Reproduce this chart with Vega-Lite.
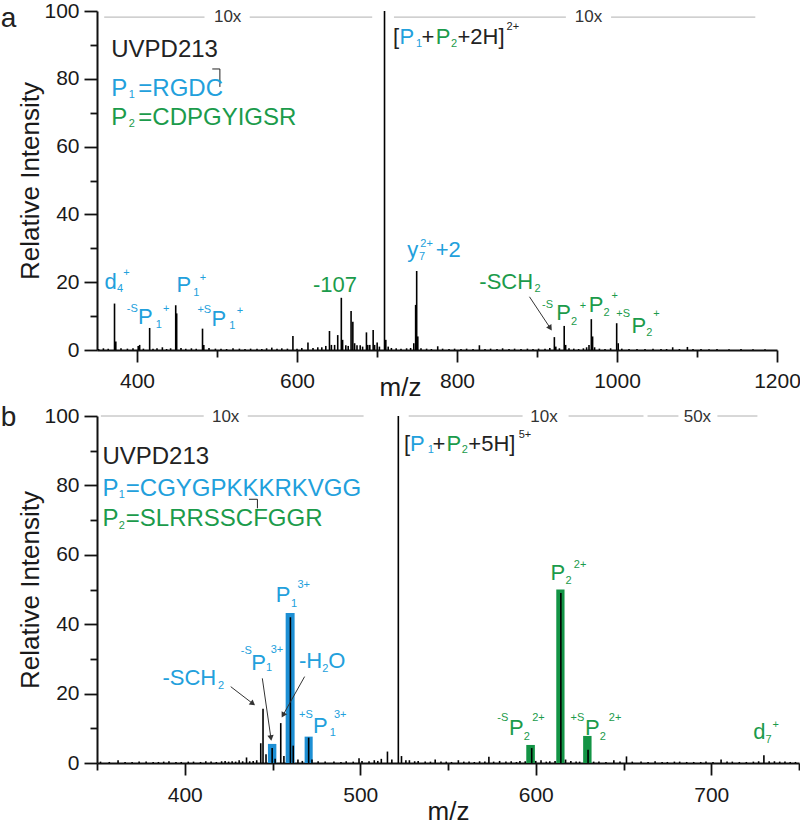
{
"$schema":"https://vega.github.io/schema/vega-lite/v6.json",
"padding":{"left":0,"top":0,"right":0,"bottom":0},
"autosize":{"type":"pad"},
"spacing":66,
"bounds":"flush",
"config":{"font":"Liberation Sans","view":{"stroke":null},
 "axis":{"domainWidth":2,"domainColor":"#111","tickColor":"#111","tickWidth":1.8,"labelFontSize":21,"labelColor":"#1a1a1a","titleFontSize":26,"titleFontWeight":"normal","titleColor":"#1a1a1a","grid":false,"labelFlush":false,"labelOverlap":false}},
"datasets":{
"txtA":[
{"mz":229.7,"i":95.2,"t":"a","k":"panel","c":"k"},
{"mz":513.3,"i":96.7,"t":"10x","k":"scale","c":"k"},
{"mz":964.4,"i":96.7,"t":"10x","k":"scale","c":"k"},
{"mz":367.8,"i":86.4,"t":"UVPD213","k":"seq","c":"k"},
{"mz":367.8,"i":74.8,"t":"P","k":"seq","c":"P1"},
{"mz":389.7,"i":74.3,"t":"1","k":"ss","c":"P1"},
{"mz":401.6,"i":74.8,"t":"=RGDC","k":"seq","c":"P1"},
{"mz":367.8,"i":66.3,"t":"P","k":"seq","c":"P2"},
{"mz":389.7,"i":65.8,"t":"2","k":"ss","c":"P2"},
{"mz":401.6,"i":66.3,"t":"=CDPGYIGSR","k":"seq","c":"P2"},
{"mz":720.0,"i":90.3,"t":"[","k":"ann","c":"k"},
{"mz":728.2,"i":90.3,"t":"P","k":"ann","c":"P1"},
{"mz":748.8,"i":89.3,"t":"1","k":"ss","c":"P1"},
{"mz":755.5,"i":90.3,"t":"+","k":"ann","c":"k"},
{"mz":773.4,"i":90.3,"t":"P","k":"ann","c":"P2"},
{"mz":792.5,"i":89.3,"t":"2","k":"ss","c":"P2"},
{"mz":800.6,"i":90.3,"t":"+2H]","k":"ann","c":"k"},
{"mz":862.0,"i":94.5,"t":"2+","k":"ss","c":"k"},
{"mz":359.3,"i":18.1,"t":"d","k":"ann","c":"P1"},
{"mz":374.9,"i":17.2,"t":"4","k":"ss","c":"P1"},
{"mz":382.8,"i":21.9,"t":"+","k":"ss","c":"P1"},
{"mz":387.3,"i":11.3,"t":"-S","k":"ss","c":"P1"},
{"mz":401.3,"i":7.8,"t":"P","k":"ann","c":"P1"},
{"mz":423.3,"i":6.4,"t":"1","k":"ss","c":"P1"},
{"mz":432.6,"i":11.1,"t":"+","k":"ss","c":"P1"},
{"mz":449.3,"i":17.2,"t":"P","k":"ann","c":"P1"},
{"mz":470.3,"i":16.0,"t":"1","k":"ss","c":"P1"},
{"mz":478.5,"i":20.4,"t":"+","k":"ss","c":"P1"},
{"mz":475.5,"i":11.0,"t":"+S","k":"ss","c":"P1"},
{"mz":493.2,"i":7.2,"t":"P","k":"ann","c":"P1"},
{"mz":515.4,"i":6.2,"t":"1","k":"ss","c":"P1"},
{"mz":524.6,"i":10.6,"t":"+","k":"ss","c":"P1"},
{"mz":620.0,"i":17.2,"t":"-107","k":"ann","c":"P2"},
{"mz":737.9,"i":27.5,"t":"y","k":"ann","c":"P1"},
{"mz":752.6,"i":26.6,"t":"7","k":"ss","c":"P1"},
{"mz":754.2,"i":30.3,"t":"2+","k":"ss","c":"P1"},
{"mz":773.4,"i":27.5,"t":"+2","k":"ann","c":"P1"},
{"mz":827.9,"i":18.1,"t":"-SCH","k":"ann","c":"P2"},
{"mz":897.0,"i":17.0,"t":"2","k":"ss","c":"P2"},
{"mz":906.3,"i":12.5,"t":"-S","k":"ss","c":"P2"},
{"mz":924.0,"i":8.8,"t":"P","k":"ann","c":"P2"},
{"mz":942.6,"i":7.4,"t":"2","k":"ss","c":"P2"},
{"mz":953.3,"i":12.1,"t":"+","k":"ss","c":"P2"},
{"mz":964.6,"i":11.3,"t":"P","k":"ann","c":"P2"},
{"mz":983.1,"i":10.1,"t":"2","k":"ss","c":"P2"},
{"mz":993.0,"i":15.0,"t":"+","k":"ss","c":"P2"},
{"mz":999.2,"i":9.8,"t":"+S","k":"ss","c":"P2"},
{"mz":1018.1,"i":4.9,"t":"P","k":"ann","c":"P2"},
{"mz":1036.6,"i":4.2,"t":"2","k":"ss","c":"P2"},
{"mz":1045.3,"i":9.6,"t":"+","k":"ss","c":"P2"}
],
"txtB":[
{"mz":295.2,"i":97.0,"t":"b","k":"panel","c":"k"},
{"mz":423.3,"i":98.3,"t":"10x","k":"scale","c":"k"},
{"mz":604.7,"i":98.3,"t":"10x","k":"scale","c":"k"},
{"mz":692.1,"i":98.3,"t":"50x","k":"scale","c":"k"},
{"mz":353.1,"i":86.2,"t":"UVPD213","k":"seq","c":"k"},
{"mz":353.1,"i":77.0,"t":"P","k":"seq","c":"P1"},
{"mz":362.4,"i":76.3,"t":"1","k":"ss","c":"P1"},
{"mz":366.4,"i":77.0,"t":"=CGYGPKKKRKVGG","k":"seq","c":"P1"},
{"mz":353.1,"i":68.2,"t":"P","k":"seq","c":"P2"},
{"mz":362.4,"i":67.4,"t":"2","k":"ss","c":"P2"},
{"mz":366.4,"i":68.2,"t":"=SLRRSSCFGGR","k":"seq","c":"P2"},
{"mz":524.9,"i":89.8,"t":"[","k":"ann","c":"k"},
{"mz":528.3,"i":89.8,"t":"P","k":"ann","c":"P1"},
{"mz":538.4,"i":89.3,"t":"1","k":"ss","c":"P1"},
{"mz":541.1,"i":89.8,"t":"+","k":"ann","c":"k"},
{"mz":549.2,"i":89.8,"t":"P","k":"ann","c":"P2"},
{"mz":557.9,"i":89.3,"t":"2","k":"ss","c":"P2"},
{"mz":561.6,"i":89.8,"t":"+5H]","k":"ann","c":"k"},
{"mz":590.3,"i":93.8,"t":"5+","k":"ss","c":"k"},
{"mz":387.3,"i":22.5,"t":"-SCH","k":"ann","c":"P1"},
{"mz":419.0,"i":21.4,"t":"2","k":"ss","c":"P1"},
{"mz":431.9,"i":31.3,"t":"-S","k":"ss","c":"P1"},
{"mz":437.9,"i":26.9,"t":"P","k":"ann","c":"P1"},
{"mz":446.3,"i":26.4,"t":"1","k":"ss","c":"P1"},
{"mz":449.0,"i":31.6,"t":"3+","k":"ss","c":"P1"},
{"mz":451.8,"i":46.3,"t":"P","k":"ann","c":"P1"},
{"mz":460.6,"i":45.1,"t":"1","k":"ss","c":"P1"},
{"mz":464.2,"i":50.4,"t":"3+","k":"ss","c":"P1"},
{"mz":465.1,"i":27.5,"t":"-H","k":"ann","c":"P1"},
{"mz":478.3,"i":26.2,"t":"2","k":"ss","c":"P1"},
{"mz":481.7,"i":27.5,"t":"O","k":"ann","c":"P1"},
{"mz":465.1,"i":12.9,"t":"+S","k":"ss","c":"P1"},
{"mz":473.1,"i":8.6,"t":"P","k":"ann","c":"P1"},
{"mz":482.6,"i":7.9,"t":"1","k":"ss","c":"P1"},
{"mz":485.0,"i":12.9,"t":"3+","k":"ss","c":"P1"},
{"mz":578.1,"i":12.0,"t":"-S","k":"ss","c":"P2"},
{"mz":584.7,"i":8.1,"t":"P","k":"ann","c":"P2"},
{"mz":593.2,"i":6.7,"t":"2","k":"ss","c":"P2"},
{"mz":598.0,"i":12.0,"t":"2+","k":"ss","c":"P2"},
{"mz":619.8,"i":12.0,"t":"+S","k":"ss","c":"P2"},
{"mz":628.0,"i":8.1,"t":"P","k":"ann","c":"P2"},
{"mz":636.5,"i":6.7,"t":"2","k":"ss","c":"P2"},
{"mz":641.6,"i":12.0,"t":"2+","k":"ss","c":"P2"},
{"mz":723.9,"i":7.0,"t":"d","k":"ann","c":"P2"},
{"mz":730.9,"i":5.7,"t":"7","k":"ss","c":"P2"},
{"mz":734.9,"i":10.0,"t":"+","k":"ss","c":"P2"},
{"mz":608.4,"i":52.8,"t":"P","k":"ann","c":"P2"},
{"mz":617.0,"i":51.5,"t":"2","k":"ss","c":"P2"},
{"mz":621.7,"i":56.1,"t":"2+","k":"ss","c":"P2"}
]
},
"vconcat":[
{
"width":680,"height":339,
"encoding":{
 "x":{"field":"mz","type":"quantitative","scale":{"domain":[350,1200],"nice":false,"zero":false},
  "axis":{"title":"m/z","values":[400,500,600,700,800,900,1000,1100,1200],"format":"d","labelExpr":"datum.value % 200 === 0 ? datum.label : ''","tickSize":{"condition":{"test":"datum.value % 200 === 0","value":12},"value":7},"labelPadding":8,"titleX":303,"titleY":45,"titleBaseline":"alphabetic"}},
 "y":{"field":"i","type":"quantitative","scale":{"domain":[0,100],"nice":false,"zero":false},
  "axis":{"title":"Relative Intensity","values":[0,10,20,30,40,50,60,70,80,90,100],"labelExpr":"datum.value % 20 === 0 ? datum.label : ''","tickSize":{"condition":{"test":"datum.value % 20 === 0","value":13},"value":7},"labelPadding":5,"titleX":-59,"titleY":169.5,"titleBaseline":"alphabetic","titleAngle":270}}
},
"layer":[
{"data":{"values":[{"mz":359,"mz2":484.4,"i":98.2},{"mz":540.9,"mz2":694,"i":98.2},{"mz":721.2,"mz2":936.1,"i":98.2},{"mz":992.6,"mz2":1172.9,"i":98.2}]},
 "mark":{"type":"rule","color":"#b0b0b0","strokeWidth":1},"encoding":{"x2":{"field":"mz2"}}},
{"data":{"values":[{"mz":494.1,"i":82.9,"mz2":503.6,"i2":82.9},{"mz":503.6,"i":82.9,"mz2":503.6,"i2":77.6}]},
 "mark":{"type":"rule","color":"#222","strokeWidth":1},"encoding":{"x2":{"field":"mz2"},"y2":{"field":"i2"}}},
{"data":{"values":[
{"mz":352,"i":0.3},{"mz":358,"i":0.5},{"mz":364,"i":0.4},{"mz":371.9,"i":13.7},{"mz":373.5,"i":2.5},{"mz":380,"i":0.5},{"mz":388,"i":0.4},{"mz":395,"i":0.5},{"mz":401.5,"i":1.2},{"mz":403.3,"i":1.5},{"mz":408,"i":0.4},{"mz":415.8,"i":6.5},{"mz":420,"i":0.4},{"mz":425,"i":0.5},{"mz":431.7,"i":0.8},{"mz":437,"i":0.3},{"mz":442,"i":0.5},{"mz":448.4,"i":13.2},{"mz":449.6,"i":10.8},{"mz":455,"i":0.6},{"mz":461,"i":0.4},{"mz":468,"i":0.5},{"mz":474,"i":0.4},{"mz":481.9,"i":6.3},{"mz":483.5,"i":1.5},{"mz":490,"i":0.6},{"mz":498,"i":0.4},{"mz":505,"i":0.4},{"mz":512,"i":0.3},{"mz":520,"i":0.5},{"mz":528,"i":0.4},{"mz":535,"i":0.3},{"mz":542,"i":0.4},{"mz":550,"i":0.4},{"mz":556,"i":0.3},{"mz":562,"i":0.5},{"mz":568.5,"i":0.7},{"mz":575,"i":0.4},{"mz":581,"i":0.5},{"mz":588,"i":0.4},{"mz":594.9,"i":4.1},{"mz":600,"i":0.4},{"mz":606,"i":0.6},{"mz":613.7,"i":2.2},{"mz":620,"i":0.6},{"mz":626,"i":0.8},{"mz":631,"i":0.8},{"mz":636,"i":1.2},{"mz":640.6,"i":5.6},{"mz":643,"i":1.5},{"mz":647,"i":1.5},{"mz":650.9,"i":4.4},{"mz":655.4,"i":15.4},{"mz":657,"i":3},{"mz":661,"i":1.4},{"mz":664,"i":1.2},{"mz":667.6,"i":11.5},{"mz":669.8,"i":8.3},{"mz":672,"i":2},{"mz":675,"i":1.4},{"mz":679,"i":1.4},{"mz":682,"i":1},{"mz":686.8,"i":5.2},{"mz":688.5,"i":1.5},{"mz":691,"i":1.5},{"mz":695.2,"i":5.9},{"mz":697,"i":1.5},{"mz":700.2,"i":2.2},{"mz":703,"i":1},{"mz":709.4,"i":100},{"mz":711,"i":3},{"mz":714,"i":1},{"mz":718,"i":0.6},{"mz":724,"i":0.5},{"mz":730,"i":0.4},{"mz":737,"i":0.5},{"mz":742,"i":0.6},{"mz":746,"i":2},{"mz":748.3,"i":13.3},{"mz":749.6,"i":23.3},{"mz":751,"i":4},{"mz":755,"i":0.5},{"mz":762,"i":0.4},{"mz":768,"i":0.3},{"mz":775.9,"i":1.1},{"mz":782,"i":0.4},{"mz":790,"i":0.3},{"mz":797,"i":0.4},{"mz":805,"i":0.3},{"mz":812,"i":0.4},{"mz":820,"i":0.3},{"mz":828,"i":1.4},{"mz":835,"i":0.3},{"mz":842,"i":0.4},{"mz":850,"i":0.3},{"mz":857,"i":0.5},{"mz":865,"i":0.3},{"mz":872,"i":0.4},{"mz":880,"i":0.3},{"mz":888,"i":0.4},{"mz":895,"i":0.3},{"mz":902,"i":0.4},{"mz":910,"i":0.4},{"mz":916,"i":0.6},{"mz":921.7,"i":3.8},{"mz":923.5,"i":1},{"mz":928,"i":0.5},{"mz":934,"i":7.1},{"mz":935.8,"i":1.5},{"mz":940,"i":0.5},{"mz":946,"i":0.4},{"mz":952,"i":0.3},{"mz":958,"i":0.5},{"mz":962,"i":0.8},{"mz":965,"i":1.5},{"mz":967.9,"i":9.1},{"mz":969.5,"i":4},{"mz":972,"i":0.8},{"mz":978,"i":0.4},{"mz":985,"i":0.3},{"mz":992,"i":0.5},{"mz":999.6,"i":7.9},{"mz":1001.5,"i":2},{"mz":1006,"i":0.4},{"mz":1015,"i":0.3},{"mz":1025,"i":0.3},{"mz":1035,"i":0.3},{"mz":1045,"i":0.4},{"mz":1055,"i":0.3},{"mz":1062,"i":0.3},{"mz":1069.6,"i":0.8},{"mz":1078,"i":0.3},{"mz":1088,"i":0.9},{"mz":1095,"i":0.3},{"mz":1105,"i":0.3},{"mz":1115,"i":0.2},{"mz":1125,"i":0.3},{"mz":1140,"i":0.2},{"mz":1155,"i":0.3},{"mz":1170,"i":0.2},{"mz":1185,"i":0.2}
]},
 "mark":{"type":"rule","color":"#000","strokeWidth":1.6},"encoding":{"y2":{"datum":0}}},
{"data":{"values":[{"mz":890.6,"i":15.7,"mz2":916.6,"i2":6.45}]},
 "mark":{"type":"rule","color":"#333","strokeWidth":1},"encoding":{"x2":{"field":"mz2"},"y2":{"field":"i2"}}},
{"data":{"values":[{"mz":916.6,"i":6.45}]},
 "mark":{"type":"point","shape":"triangle-up","filled":true,"size":40,"angle":146.6,"color":"#333","opacity":1}},
{"data":{"name":"txtA"},"transform":[{"filter":"datum.k === 'panel'"}],
 "mark":{"type":"text","align":"left","baseline":"alphabetic","fontSize":28},
 "encoding":{"text":{"field":"t"},"color":{"field":"c","type":"nominal","scale":{"domain":["P1","P2","k"],"range":["#22a0dc","#1b9b4b","#222222"]},"legend":null}}},
{"data":{"name":"txtA"},"transform":[{"filter":"datum.k === 'scale'"}],
 "mark":{"type":"text","align":"center","baseline":"alphabetic","fontSize":17,"color":"#333"},
 "encoding":{"text":{"field":"t"}}},
{"data":{"name":"txtA"},"transform":[{"filter":"datum.k === 'seq'"}],
 "mark":{"type":"text","align":"left","baseline":"alphabetic","fontSize":24},
 "encoding":{"text":{"field":"t"},"color":{"field":"c","type":"nominal","legend":null}}},
{"data":{"name":"txtA"},"transform":[{"filter":"datum.k === 'ann'"}],
 "mark":{"type":"text","align":"left","baseline":"alphabetic","fontSize":22},
 "encoding":{"text":{"field":"t"},"color":{"field":"c","type":"nominal","legend":null}}},
{"data":{"name":"txtA"},"transform":[{"filter":"datum.k === 'ss'"}],
 "mark":{"type":"text","align":"left","baseline":"alphabetic","fontSize":11},
 "encoding":{"text":{"field":"t"},"color":{"field":"c","type":"nominal","legend":null}}}
]
},
{
"width":702,"height":347,
"encoding":{
 "x":{"field":"mz","type":"quantitative","scale":{"domain":[350,750],"nice":false,"zero":false},
  "axis":{"title":"m/z","values":[350,400,450,500,550,600,650,700,750],"format":"d","labelExpr":"datum.value % 100 === 0 ? datum.label : ''","tickSize":{"condition":{"test":"datum.value % 100 === 0","value":12},"value":7},"labelPadding":9,"titleX":351,"titleY":56,"titleBaseline":"alphabetic"}},
 "y":{"field":"i","type":"quantitative","scale":{"domain":[0,100],"nice":false,"zero":false},
  "axis":{"title":"Relative Intensity","values":[0,10,20,30,40,50,60,70,80,90,100],"labelExpr":"datum.value % 20 === 0 ? datum.label : ''","tickSize":{"condition":{"test":"datum.value % 20 === 0","value":13},"value":7},"labelPadding":5,"titleX":-59,"titleY":173.5,"titleBaseline":"alphabetic","titleAngle":270}}
},
"layer":[
{"data":{"values":[{"mz":352.2,"mz2":410.8,"i":100},{"mz":435.9,"mz2":501.9,"i":100},{"mz":527.6,"mz2":592.5,"i":100},{"mz":618.7,"mz2":661.4,"i":100},{"mz":663.7,"mz2":681.3,"i":100},{"mz":703.5,"mz2":726.3,"i":100}]},
 "mark":{"type":"rule","color":"#b0b0b0","strokeWidth":1},"encoding":{"x2":{"field":"mz2"}}},
{"data":{"values":[{"mz":436.6,"i":76.0,"mz2":441.4,"i2":76.0},{"mz":441.4,"i":76.0,"mz2":441.4,"i2":73.4}]},
 "mark":{"type":"rule","color":"#222","strokeWidth":1},"encoding":{"x2":{"field":"mz2"},"y2":{"field":"i2"}}},
{"data":{"values":[{"mz":447.4,"mz2":452.2,"i":5.5,"c":"P1"},{"mz":457.5,"mz2":462.6,"i":43.2,"c":"P1"},{"mz":468.3,"mz2":472.9,"i":7.6,"c":"P1"},{"mz":594.6,"mz2":599.5,"i":5.2,"c":"P2"},{"mz":611.7,"mz2":616.4,"i":50,"c":"P2"},{"mz":627.0,"mz2":631.8,"i":7.8,"c":"P2"}]},
 "mark":{"type":"rect"},"encoding":{"x2":{"field":"mz2"},"y2":{"datum":0},"fill":{"field":"c","type":"nominal","scale":{"domain":["P1","P2"],"range":["#1d8fd4","#139445"]},"legend":null}}},
{"data":{"values":[
{"mz":352,"i":0.4},{"mz":357,"i":0.3},{"mz":362,"i":0.8},{"mz":366,"i":0.3},{"mz":370,"i":0.3},{"mz":374,"i":0.4},{"mz":378,"i":0.4},{"mz":382,"i":0.3},{"mz":385,"i":0.3},{"mz":388,"i":0.4},{"mz":391,"i":0.5},{"mz":395,"i":0.3},{"mz":398,"i":0.3},{"mz":402,"i":0.4},{"mz":405,"i":0.4},{"mz":409,"i":0.3},{"mz":412,"i":0.5},{"mz":415,"i":0.4},{"mz":418,"i":0.3},{"mz":421,"i":0.5},{"mz":423,"i":0.6},{"mz":425,"i":0.4},{"mz":427,"i":0.5},{"mz":429,"i":0.4},{"mz":431,"i":0.8},{"mz":433,"i":0.5},{"mz":435.2,"i":1.6},{"mz":437,"i":0.5},{"mz":439,"i":0.6},{"mz":441,"i":0.8},{"mz":443.3,"i":5.7},{"mz":444.6,"i":15.6},{"mz":446.3,"i":2.5},{"mz":449.8,"i":4.3},{"mz":451.5,"i":1.2},{"mz":454.7,"i":11.5},{"mz":456.5,"i":2},{"mz":460.2,"i":42},{"mz":461.8,"i":5},{"mz":464.5,"i":1},{"mz":467,"i":0.6},{"mz":470.6,"i":7.3},{"mz":472.5,"i":1},{"mz":476,"i":0.5},{"mz":480,"i":0.4},{"mz":485,"i":0.4},{"mz":489,"i":0.3},{"mz":492,"i":0.5},{"mz":496,"i":0.4},{"mz":499.3,"i":1.4},{"mz":501,"i":0.6},{"mz":505,"i":0.5},{"mz":508,"i":0.8},{"mz":510,"i":0.6},{"mz":512,"i":1.2},{"mz":515.5,"i":3.3},{"mz":518,"i":1},{"mz":521.7,"i":100},{"mz":523.5,"i":2},{"mz":526,"i":0.8},{"mz":528,"i":0.8},{"mz":531,"i":0.5},{"mz":533,"i":0.6},{"mz":537,"i":0.4},{"mz":540,"i":0.4},{"mz":542.7,"i":1},{"mz":546,"i":0.4},{"mz":549,"i":0.4},{"mz":552,"i":0.3},{"mz":555.9,"i":0.8},{"mz":559,"i":0.4},{"mz":562,"i":0.4},{"mz":565,"i":0.3},{"mz":568,"i":0.5},{"mz":571,"i":0.4},{"mz":573.3,"i":1.8},{"mz":576,"i":0.4},{"mz":579.4,"i":0.6},{"mz":583,"i":0.4},{"mz":586,"i":0.5},{"mz":589,"i":0.3},{"mz":591,"i":0.6},{"mz":594,"i":0.5},{"mz":597.7,"i":4.3},{"mz":600,"i":0.6},{"mz":603,"i":0.8},{"mz":606,"i":0.4},{"mz":608,"i":0.5},{"mz":611,"i":0.6},{"mz":614.3,"i":49},{"mz":617,"i":1},{"mz":620,"i":0.6},{"mz":623,"i":0.4},{"mz":625,"i":0.4},{"mz":629.8,"i":3.8},{"mz":633,"i":0.4},{"mz":636,"i":0.4},{"mz":640,"i":0.3},{"mz":644.5,"i":0.8},{"mz":648,"i":0.4},{"mz":651.7,"i":1.9},{"mz":655,"i":0.4},{"mz":660,"i":0.4},{"mz":664,"i":0.3},{"mz":668,"i":0.5},{"mz":672,"i":0.3},{"mz":675,"i":0.3},{"mz":679,"i":0.4},{"mz":682,"i":0.4},{"mz":686,"i":0.3},{"mz":690,"i":0.3},{"mz":694,"i":0.3},{"mz":697,"i":0.4},{"mz":701,"i":0.3},{"mz":705.6,"i":1.0},{"mz":709,"i":0.4},{"mz":712,"i":0.4},{"mz":716,"i":0.3},{"mz":720,"i":0.3},{"mz":724,"i":0.4},{"mz":727,"i":0.5},{"mz":730,"i":2.2},{"mz":733,"i":0.5},{"mz":736,"i":0.5},{"mz":739,"i":0.4},{"mz":742,"i":0.4},{"mz":745,"i":0.3},{"mz":748,"i":0.3}
]},
 "mark":{"type":"rule","color":"#000","strokeWidth":1.6},"encoding":{"y2":{"datum":0}}},
{"data":{"values":[{"mz":426.2,"i":22.0,"mz2":438.8,"i2":17.1},{"mz":444.2,"i":24.4,"mz2":449.1,"i2":7.2},{"mz":468.3,"i":24.9,"mz2":456.0,"i2":13.8}]},
 "mark":{"type":"rule","color":"#333","strokeWidth":1},"encoding":{"x2":{"field":"mz2"},"y2":{"field":"i2"}}},
{"data":{"values":[{"mz":438.8,"i":17.1}]},
 "mark":{"type":"point","shape":"triangle-up","filled":true,"size":40,"angle":127.7,"color":"#333","opacity":1}},
{"data":{"values":[{"mz":449.1,"i":7.2}]},
 "mark":{"type":"point","shape":"triangle-up","filled":true,"size":40,"angle":171.9,"color":"#333","opacity":1}},
{"data":{"values":[{"mz":456.0,"i":13.8}]},
 "mark":{"type":"point","shape":"triangle-up","filled":true,"size":40,"angle":209.2,"color":"#333","opacity":1}},
{"data":{"name":"txtB"},"transform":[{"filter":"datum.k === 'panel'"}],
 "mark":{"type":"text","align":"left","baseline":"alphabetic","fontSize":28},
 "encoding":{"text":{"field":"t"},"color":{"field":"c","type":"nominal","scale":{"domain":["P1","P2","k"],"range":["#22a0dc","#1b9b4b","#222222"]},"legend":null}}},
{"data":{"name":"txtB"},"transform":[{"filter":"datum.k === 'scale'"}],
 "mark":{"type":"text","align":"center","baseline":"alphabetic","fontSize":17,"color":"#333"},
 "encoding":{"text":{"field":"t"}}},
{"data":{"name":"txtB"},"transform":[{"filter":"datum.k === 'seq'"}],
 "mark":{"type":"text","align":"left","baseline":"alphabetic","fontSize":24},
 "encoding":{"text":{"field":"t"},"color":{"field":"c","type":"nominal","legend":null}}},
{"data":{"name":"txtB"},"transform":[{"filter":"datum.k === 'ann'"}],
 "mark":{"type":"text","align":"left","baseline":"alphabetic","fontSize":22},
 "encoding":{"text":{"field":"t"},"color":{"field":"c","type":"nominal","legend":null}}},
{"data":{"name":"txtB"},"transform":[{"filter":"datum.k === 'ss'"}],
 "mark":{"type":"text","align":"left","baseline":"alphabetic","fontSize":11},
 "encoding":{"text":{"field":"t"},"color":{"field":"c","type":"nominal","legend":null}}}
]
}
]
}
